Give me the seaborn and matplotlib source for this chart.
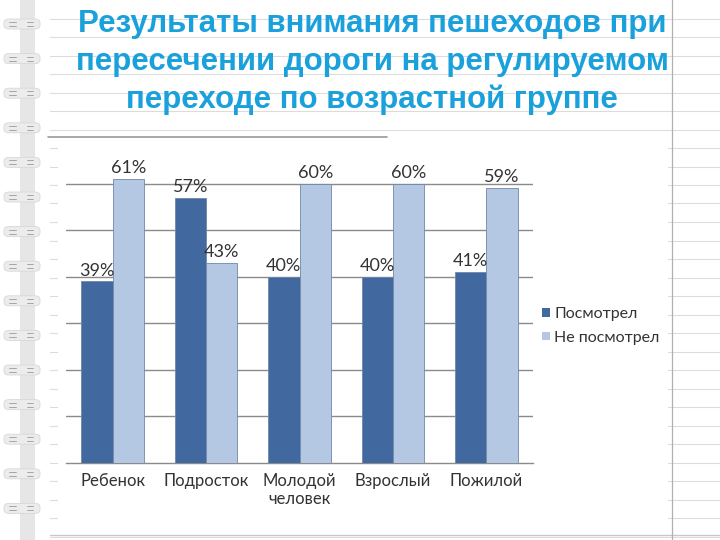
import matplotlib
matplotlib.use("Agg")
import matplotlib.pyplot as plt
import matplotlib.patches as mpatches
from matplotlib.lines import Line2D
import seaborn as sns
import pandas as pd

title = "Результаты внимания пешеходов при\nпересечении дороги на регулируемом\nпереходе по возрастной группе"
categories = ["Ребенок", "Подросток", "Молодой\nчеловек", "Взрослый", "Пожилой"]
series_names = ["Посмотрел", "Не посмотрел"]
looked = [39, 57, 40, 40, 41]
not_looked = [61, 43, 60, 60, 59]
colors = ["#41689f", "#b4c8e4"]

rows = []
for c, a, b in zip(categories, looked, not_looked):
    rows.append({"cat": c, "series": series_names[0], "val": a})
    rows.append({"cat": c, "series": series_names[1], "val": b})
df = pd.DataFrame(rows)

sns.set_theme(style="white")
plt.rcParams['font.family'] = ['Lato', 'DejaVu Sans']

fig = plt.figure(figsize=(7.2, 5.4), dpi=100)
W, H = 720, 540

def fx(x):
    return x / W

def fy(y):
    return 1 - y / H

# notebook paper background lines
k = 1
while 18.5 * k < H:
    y = 18.5 * k
    fig.add_artist(Line2D([fx(50), fx(720)], [fy(y), fy(y)], color="#dcdcdc", lw=0.8, zorder=0))
    k += 1
# white chart box
fig.add_artist(mpatches.Rectangle((fx(58), fy(533)), fx(668 - 58), (533 - 137) / H,
                                  facecolor="white", edgecolor="none", zorder=0.5))
fig.add_artist(Line2D([fx(48), fx(387)], [fy(137), fy(137)], color="#9a9a9a", lw=1.2, zorder=0.6))
fig.add_artist(Line2D([fx(50), fx(720)], [fy(535), fy(535)], color="#c8c8c8", lw=1.0, zorder=0.6))
fig.add_artist(Line2D([fx(672), fx(672)], [0, 1], color="#b0b0b0", lw=0.9, zorder=0.6))
# binding strip and rings
fig.add_artist(mpatches.Rectangle((fx(20), 0), fx(15), 1, facecolor="#e6e6e6", edgecolor="none", zorder=0.7))
y = 24
while y < H:
    fig.add_artist(mpatches.FancyBboxPatch((fx(4), fy(y + 5)), fx(36), 10 / H,
                                           boxstyle="round,pad=0,rounding_size=0.007",
                                           facecolor="#ececec", edgecolor="#d8d8d8", lw=0.6, zorder=0.8))
    for x0, x1 in [(9, 16), (27, 33)]:
        for dy in (-2, 2):
            fig.add_artist(Line2D([fx(x0), fx(x1)], [fy(y + dy), fy(y + dy)],
                                  color="#9a9a9a", lw=0.6, zorder=0.9))
    y += 34.6

# title
fig.text(fx(372), fy(62), title, ha="center", va="center", fontsize=22.5, fontweight="bold",
         color="#1aa1dc", linespacing=1.34, family=["Liberation Sans", "DejaVu Sans"], zorder=2)

ax = fig.add_axes([fx(66), fy(463), fx(533 - 66), (463 - 137) / H])
ax.set_zorder(5)
ax.set_facecolor("none")
sns.barplot(data=df, x="cat", y="val", hue="series", palette=colors, width=0.67, saturation=1,
            edgecolor="#6f87a8", linewidth=0.6, ax=ax, zorder=3)

ax.set_ylim(0, 70)
ax.set_xlim(-0.5, 4.5)
ax.set_yticks([10, 20, 30, 40, 50, 60])
ax.set_yticklabels([])
ax.tick_params(axis="y", length=0)
ax.grid(axis="y", color="#8a8a8a", lw=1.0, zorder=0)
ax.set_axisbelow(True)
for s in ["left", "top", "right"]:
    ax.spines[s].set_visible(False)
ax.spines["bottom"].set_color("#8a8a8a")
ax.spines["bottom"].set_linewidth(1.0)
ax.set_xlabel("")
ax.set_ylabel("")
ax.set_xticks(range(len(categories)))
ax.set_xticklabels(categories, fontsize=12, color="#333333", linespacing=1.15)
ax.tick_params(axis="x", length=0, pad=7)
ax.set_xticks([i - 0.5 for i in range(len(categories) + 1)], minor=True)
ax.tick_params(axis="x", which="minor", length=5, color="#8a8a8a", width=1.0, direction="out")

for cont in ax.containers:
    ax.bar_label(cont, labels=[f"{int(v)}%" for v in cont.datavalues], padding=2,
                 fontsize=13, color="#333333")

if ax.get_legend() is not None:
    ax.get_legend().remove()
handles = [mpatches.Patch(facecolor=c, edgecolor="none") for c in colors]
leg = fig.legend(handles, series_names, loc="center left", bbox_to_anchor=(fx(528), fy(326)),
                 frameon=False, fontsize=11.5, handlelength=0.45, handleheight=0.45, handletextpad=0.3,
                 labelspacing=0.6, labelcolor="#333333")
leg.set_zorder(6)

fig.savefig("out.png", dpi=100, facecolor="white")
